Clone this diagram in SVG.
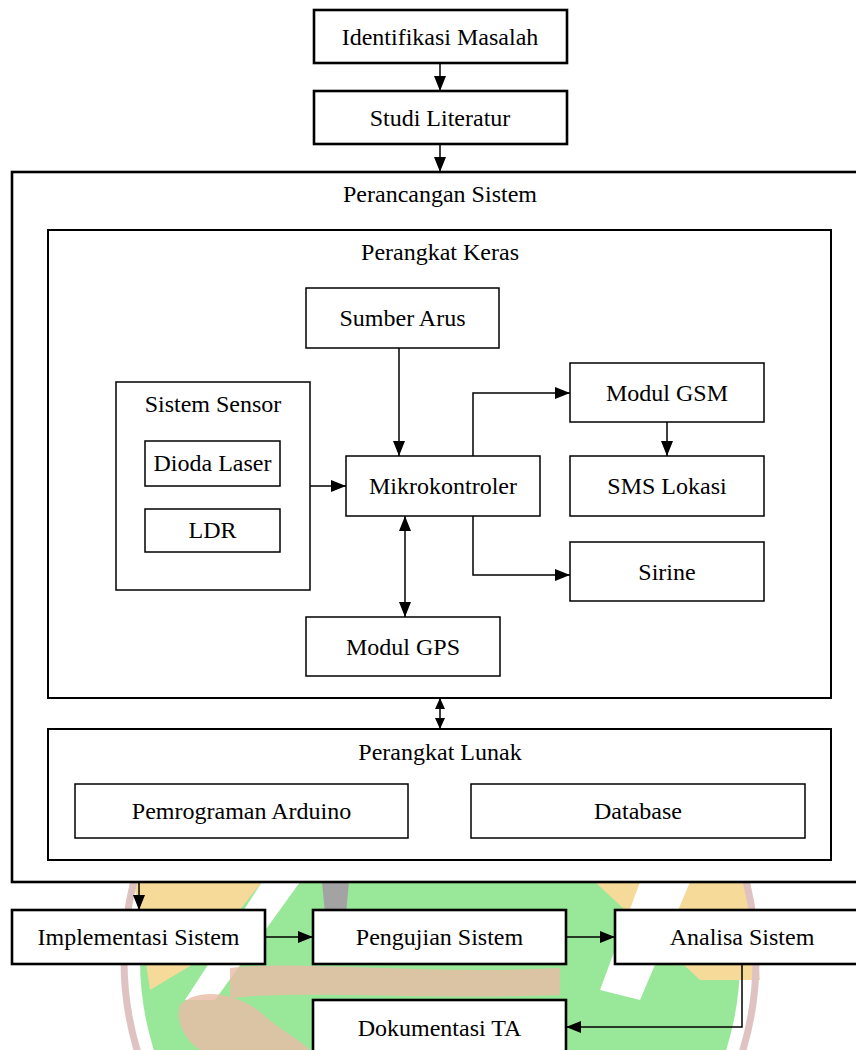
<svg xmlns="http://www.w3.org/2000/svg" width="856" height="1050" viewBox="0 0 856 1050">
<style>
  .t { font-family: "Liberation Serif", "Times New Roman", serif; font-size: 24px; fill: #000; text-anchor: middle; }
  .thick { fill: #fff; stroke: #000; stroke-width: 2.6; }
  .mid { fill: #fff; stroke: #000; stroke-width: 2; }
  .thin { fill: #fff; stroke: #000; stroke-width: 1.5; }
  .ln { fill: none; stroke: #000; stroke-width: 1.5; }
</style>
<defs>
  <marker id="ah" markerUnits="userSpaceOnUse" markerWidth="15" markerHeight="12" refX="15" refY="6" orient="auto-start-reverse" viewBox="0 0 15 12">
    <path d="M0,0 L15,6 L0,12 z" fill="#000"/>
  </marker>
  <marker id="ahs" markerUnits="userSpaceOnUse" markerWidth="11" markerHeight="10" refX="11" refY="5" orient="auto-start-reverse" viewBox="0 0 11 10">
    <path d="M0,0 L11,5 L0,10 z" fill="#000"/>
  </marker>
</defs>
<rect width="856" height="1050" fill="#fff"/>

<g id="watermark" opacity="0.9">
  <circle cx="440" cy="960" r="300" fill="#8fe68f"/>
  <path d="M134,882 L262,882 L200,960 L150,990 Z" fill="#f5d68e"/>
  <path d="M262,882 L300,882 L215,1000 L185,1000 Z" fill="#ffffff"/>
  <path d="M595,882 L750,882 L760,980 L700,980 Z" fill="#f5d68e"/>
  <path d="M640,882 L690,882 L640,1000 L600,990 Z" fill="#ffffff"/>
  <path d="M230,968 C300,960 420,975 560,968 L560,995 C420,1000 300,990 230,998 Z" fill="#e8b49c" opacity="0.8"/>
  <path d="M180,1005 C200,985 240,995 260,1012 C280,1030 300,1040 310,1050 L200,1050 C185,1040 175,1022 180,1005 Z" fill="#e8b49c" opacity="0.8"/>
  <path d="M322,882 L349,882 L345,925 L326,925 Z" fill="#9a9a9a"/>
  <circle cx="440" cy="960" r="316" fill="none" stroke="#dcbcbc" stroke-width="7"/>
</g>

<g id="n-perancangan"><rect class="thick" x="12" y="172" width="862" height="710"/><text class="t" x="440" y="202">Perancangan Sistem</text></g>
<g id="n-keras"><rect class="mid" x="48" y="230" width="783" height="468"/><text class="t" x="440" y="260">Perangkat Keras</text></g>
<g id="n-lunak"><rect class="mid" x="48" y="729" width="783" height="131"/><text class="t" x="440" y="760">Perangkat Lunak</text></g>

<g id="n-identifikasi"><rect class="thick" x="314" y="10" width="253" height="53"/><text class="t" x="440" y="45">Identifikasi Masalah</text></g>
<g id="n-studi"><rect class="thick" x="314" y="91" width="253" height="53"/><text class="t" x="440" y="126">Studi Literatur</text></g>

<g id="n-sumber"><rect class="thin" x="306" y="288" width="193" height="60"/><text class="t" x="402.5" y="326">Sumber Arus</text></g>
<g id="n-sensor"><rect class="thin" x="116" y="382" width="194" height="208"/><text class="t" x="213" y="412">Sistem Sensor</text></g>
<g id="n-dioda"><rect class="thin" x="145" y="441" width="135" height="45"/><text class="t" x="212.5" y="471">Dioda Laser</text></g>
<g id="n-ldr"><rect class="thin" x="145" y="509" width="135" height="43"/><text class="t" x="212.5" y="538">LDR</text></g>
<g id="n-mikro"><rect class="thin" x="346" y="456" width="194" height="60"/><text class="t" x="443" y="494">Mikrokontroler</text></g>
<g id="n-gsm"><rect class="thin" x="570" y="363" width="194" height="59"/><text class="t" x="667" y="400.5">Modul GSM</text></g>
<g id="n-sms"><rect class="thin" x="570" y="456" width="194" height="60"/><text class="t" x="667" y="494">SMS Lokasi</text></g>
<g id="n-sirine"><rect class="thin" x="570" y="542" width="194" height="59"/><text class="t" x="667" y="579.5">Sirine</text></g>
<g id="n-gps"><rect class="thin" x="306" y="617" width="194" height="59"/><text class="t" x="403" y="654.5">Modul GPS</text></g>

<g id="n-arduino"><rect class="thin" x="75" y="784" width="333" height="54"/><text class="t" x="241.5" y="819">Pemrograman Arduino</text></g>
<g id="n-database"><rect class="thin" x="471" y="784" width="334" height="54"/><text class="t" x="638" y="819">Database</text></g>

<g id="n-implementasi"><rect class="thick" x="12" y="910" width="253" height="54"/><text class="t" x="138.5" y="945">Implementasi Sistem</text></g>
<g id="n-pengujian"><rect class="thick" x="313" y="910" width="253" height="54"/><text class="t" x="439.5" y="945">Pengujian Sistem</text></g>
<g id="n-analisa"><rect class="thick" x="615" y="910" width="256" height="54"/><text class="t" x="742" y="945">Analisa Sistem</text></g>
<g id="n-dokumentasi"><rect class="thick" x="313" y="1000" width="253" height="70"/><text class="t" x="439.5" y="1036">Dokumentasi TA</text></g>

<g id="connectors">
  <line class="ln" x1="440" y1="64" x2="440" y2="91" marker-end="url(#ah)"/>
  <line class="ln" x1="440" y1="145" x2="440" y2="172" marker-end="url(#ah)"/>
  <line class="ln" x1="399" y1="348" x2="399" y2="456" marker-end="url(#ah)"/>
  <line class="ln" x1="310" y1="486" x2="346" y2="486" marker-end="url(#ah)"/>
  <polyline class="ln" points="473,456 473,393 570,393" marker-end="url(#ah)"/>
  <polyline class="ln" points="473,516 473,575 570,575" marker-end="url(#ah)"/>
  <line class="ln" x1="667" y1="422" x2="667" y2="456" marker-end="url(#ah)"/>
  <line class="ln" x1="405" y1="516" x2="405" y2="617" marker-start="url(#ah)" marker-end="url(#ah)"/>
  <line class="ln" x1="440" y1="698" x2="440" y2="729" marker-start="url(#ahs)" marker-end="url(#ahs)"/>
  <line class="ln" x1="139" y1="883" x2="139" y2="910" marker-end="url(#ah)"/>
  <line class="ln" x1="265" y1="937" x2="313" y2="937" marker-end="url(#ah)"/>
  <line class="ln" x1="566" y1="937" x2="615" y2="937" marker-end="url(#ah)"/>
  <polyline class="ln" points="742,964 742,1027 566,1027" marker-end="url(#ah)"/>
</g>
</svg>
